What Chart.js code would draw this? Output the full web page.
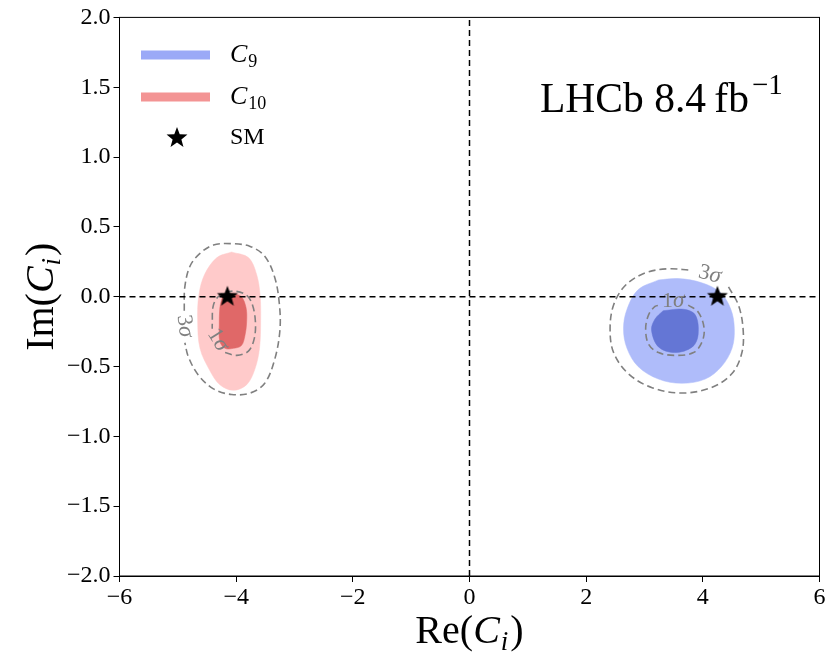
<!DOCTYPE html>
<html>
<head>
<meta charset="utf-8">
<script src="https://cdn.jsdelivr.net/npm/chart.js@4.4.0/dist/chart.umd.min.js"></script>
<style>
  html, body { margin: 0; padding: 0; background: #fff; }
  #wrap { width: 826px; height: 654px; }
</style>
</head>
<body>
<div id="wrap"><canvas id="scan" width="826" height="654"></canvas></div>
<script>
// ---- data (Re, Im pairs) ----
const c9Outer = [[3.24,0.12],[3.58,0.13],[3.98,0.10],[4.30,0.03],[4.48,-0.09],[4.54,-0.23],[4.50,-0.37],[4.32,-0.50],[4.04,-0.59],[3.64,-0.62],[3.24,-0.59],[2.89,-0.50],[2.70,-0.37],[2.64,-0.23],[2.70,-0.09],[2.89,0.05],[3.24,0.12]];
const c9Inner = [[3.32,-0.10],[3.67,-0.09],[3.87,-0.13],[3.92,-0.27],[3.82,-0.36],[3.52,-0.40],[3.24,-0.36],[3.12,-0.24],[3.18,-0.16],[3.32,-0.10]];
const c9Sigma1 = [[3.75,-0.06],[3.92,-0.11],[4.02,-0.22],[3.99,-0.32],[3.84,-0.40],[3.52,-0.42],[3.24,-0.40],[3.07,-0.34],[3.02,-0.23],[3.07,-0.13],[3.18,-0.07],[3.27,-0.06]];
const c9Sigma3 = [[4.44,0.07],[4.61,-0.06],[4.69,-0.23],[4.67,-0.40],[4.50,-0.55],[4.15,-0.65],[3.64,-0.69],[3.12,-0.65],[2.72,-0.55],[2.47,-0.40],[2.41,-0.23],[2.47,-0.06],[2.67,0.08],[3.01,0.17],[3.41,0.20],[3.78,0.19]];

const c10Outer = [[-4.08,0.32],[-3.79,0.28],[-3.65,0.16],[-3.59,0.01],[-3.58,-0.17],[-3.60,-0.37],[-3.68,-0.52],[-3.82,-0.63],[-4.05,-0.67],[-4.28,-0.63],[-4.45,-0.53],[-4.62,-0.37],[-4.66,-0.17],[-4.64,0.01],[-4.54,0.16],[-4.33,0.28],[-4.08,0.32]];
const c10Inner = [[-4.22,0.01],[-4.05,0.02],[-3.91,0.00],[-3.83,-0.08],[-3.82,-0.18],[-3.85,-0.28],[-3.91,-0.35],[-4.05,-0.37],[-4.19,-0.37],[-4.28,-0.32],[-4.29,-0.20],[-4.28,-0.08],[-4.25,-0.02],[-4.22,0.01]];
const c10Sigma1 = [[-4.19,-0.40],[-3.99,-0.42],[-3.79,-0.39],[-3.69,-0.30],[-3.67,-0.18],[-3.72,-0.06],[-3.82,0.01],[-4.05,0.04],[-4.28,0.01],[-4.39,-0.06],[-4.41,-0.20],[-4.41,-0.23]];
const c10Sigma3 = [[-4.89,-0.10],[-4.88,0.07],[-4.79,0.22],[-4.62,0.31],[-4.39,0.37],[-4.08,0.38],[-3.76,0.36],[-3.51,0.29],[-3.34,0.14],[-3.26,-0.05],[-3.25,-0.24],[-3.34,-0.45],[-3.51,-0.62],[-3.76,-0.69],[-4.08,-0.70],[-4.39,-0.66],[-4.65,-0.56],[-4.82,-0.43],[-4.88,-0.33]];

const smPoints = [[-4.15,0.0],[4.25,0.0]];
const zeroH = [[-6,0],[6,0]];
const zeroV = [[0,-2],[0,2]];

const sigmaLabels = ['1σ','3σ','1σ','3σ'];
const sigmaLabelX = [3.49, 4.12, -4.31, -4.88];
const sigmaLabelY = [-0.03, 0.16, -0.31, -0.21];
const sigmaLabelAngle = [0, 14, 58, 82];

const xTicks = [-6,-4,-2,0,2,4,6];
const yTicks = [-2.0,-1.5,-1.0,-0.5,0.0,0.5,1.0,1.5,2.0];

const serif = "'Liberation Serif', 'DejaVu Serif', serif";
const pts = a => a.map(p => ({x: p[0], y: p[1]}));

function makeStar(r) {
  const c = document.createElement('canvas');
  const s = Math.ceil(r * 2 + 2);
  c.width = s; c.height = s;
  const g = c.getContext('2d');
  g.beginPath();
  for (let i = 0; i < 10; i++) {
    const rad = i % 2 ? r * 0.42 : r;
    const a = -Math.PI / 2 + i * Math.PI / 5;
    g.lineTo(s / 2 + rad * Math.cos(a), s / 2 + rad * Math.sin(a));
  }
  g.closePath();
  g.fillStyle = '#000';
  g.fill();
  return c;
}
const star = makeStar(11);

function fillSet(data, color, order) {
  return { data: pts(data), showLine: true, fill: 'shape', backgroundColor: color,
    borderColor: color, borderWidth: 0.5, pointRadius: 0, tension: 0.35, order: order };
}
function dashSet(data, order) {
  return { data: pts(data), showLine: true, fill: false, borderColor: '#808080',
    borderWidth: 1.6, borderDash: [7, 4], pointRadius: 0, tension: 0.35, order: order };
}

// draws italic/sub text runs in a row
function drawRuns(g, runs, x, y) {
  for (const r of runs) {
    g.font = r.font;
    g.fillText(r.t, x, y + (r.dy || 0));
    x += g.measureText(r.t).width + (r.gap || 0);
  }
}
function runsWidth(g, runs) {
  let w = 0;
  for (const r of runs) { g.font = r.font; w += g.measureText(r.t).width + (r.gap || 0); }
  return w;
}

const decor = {
  id: 'decor',
  afterDatasetsDraw(chart) {
    const g = chart.ctx, a = chart.chartArea;
    const xs = chart.scales.x, ys = chart.scales.y;
    g.save();
    // frame
    g.strokeStyle = '#000'; g.lineWidth = 1;
    g.strokeRect(a.left, a.top, a.right - a.left, a.bottom - a.top);

    // sigma labels
    g.fillStyle = '#808080';
    g.textBaseline = 'middle';
    sigmaLabels.forEach((s, i) => {
      const px = xs.getPixelForValue(sigmaLabelX[i]);
      const py = ys.getPixelForValue(sigmaLabelY[i]);
      g.save();
      g.translate(px, py);
      g.rotate(sigmaLabelAngle[i] * Math.PI / 180);
      const runs = [{t: s[0], font: '22px ' + serif}, {t: s[1], font: 'italic 23px ' + serif}];
      drawRuns(g, runs, -runsWidth(g, runs) / 2, 0);
      g.restore();
    });

    // legend
    g.textBaseline = 'alphabetic';
    g.lineWidth = 9;
    g.strokeStyle = '#9ba9f7';
    g.beginPath(); g.moveTo(141, 55); g.lineTo(210, 55); g.stroke();
    g.strokeStyle = '#f39494';
    g.beginPath(); g.moveTo(141, 97); g.lineTo(210, 97); g.stroke();
    g.drawImage(star, 177 - star.width / 2, 138 - star.height / 2);
    g.fillStyle = '#000';
    drawRuns(g, [{t: 'C', font: 'italic 26px ' + serif, gap: 1}, {t: '9', font: '18px ' + serif, dy: 5}], 230, 62);
    drawRuns(g, [{t: 'C', font: 'italic 26px ' + serif, gap: 1}, {t: '10', font: '18px ' + serif, dy: 5}], 230, 104);
    drawRuns(g, [{t: 'SM', font: '24px ' + serif}], 230, 144);

    // experiment tag
    drawRuns(g, [{t: 'LHCb 8.4\u2009fb', font: '41.5px ' + serif, gap: 3}, {t: '\u22121', font: '29px ' + serif, dy: -18}], 540, 112);

    // axis titles
    const xr = [{t: 'Re(', font: '40px ' + serif}, {t: 'C', font: 'italic 40px ' + serif, gap: 1},
                {t: 'i', font: 'italic 27px ' + serif, dy: 7, gap: 2}, {t: ')', font: '40px ' + serif}];
    drawRuns(g, xr, (a.left + a.right) / 2 - runsWidth(g, xr) / 2, 643);
    const yr = [{t: 'Im(', font: '40px ' + serif}, {t: 'C', font: 'italic 40px ' + serif, gap: 1},
                {t: 'i', font: 'italic 27px ' + serif, dy: 7, gap: 2}, {t: ')', font: '40px ' + serif}];
    g.save();
    g.translate(53, (a.top + a.bottom) / 2);
    g.rotate(-Math.PI / 2);
    drawRuns(g, yr, -runsWidth(g, yr) / 2, 0);
    g.restore();
    g.restore();
  }
};

new Chart(document.getElementById('scan'), {
  type: 'scatter',
  data: {
    datasets: [
      { data: pts(smPoints), pointStyle: star, pointRadius: 11, showLine: false, order: 0 },
      { data: pts(zeroH), showLine: true, borderColor: '#000', borderWidth: 1.5, borderDash: [6, 4], pointRadius: 0, order: 1 },
      { data: pts(zeroV), showLine: true, borderColor: '#000', borderWidth: 1.5, borderDash: [6, 4], pointRadius: 0, order: 1 },
      dashSet(c9Sigma1, 2), dashSet(c9Sigma3, 2), dashSet(c10Sigma1, 2), dashSet(c10Sigma3, 2),
      fillSet(c9Inner, '#6476d5', 3), fillSet(c10Inner, '#e06868', 3),
      fillSet(c9Outer, '#afbcfa', 4), fillSet(c10Outer, '#ffcaca', 4)
    ]
  },
  options: {
    responsive: false,
    animation: false,
    events: [],
    layout: { autoPadding: false, padding: { top: 17, right: 6.5, left: 0, bottom: 0 } },
    plugins: { legend: { display: false }, tooltip: { enabled: false } },
    scales: {
      x: {
        type: 'linear', min: -6, max: 6,
        afterBuildTicks: s => { s.ticks = xTicks.map(v => ({value: v})); },
        ticks: { color: '#000', font: { family: serif, size: 24 }, padding: 1, maxRotation: 0,
          callback: v => String(v).replace('-', '\u2212') },
        grid: { drawOnChartArea: false, tickLength: 6, tickColor: '#000' },
        border: { color: '#000' },
        afterFit: s => { s.height = 78; s.paddingLeft = 0; s.paddingRight = 0; }
      },
      y: {
        type: 'linear', min: -2, max: 2,
        afterBuildTicks: s => { s.ticks = yTicks.map(v => ({value: v})); },
        ticks: { color: '#000', font: { family: serif, size: 24 }, padding: 3,
          callback: v => Number(v).toFixed(1).replace('-', '\u2212') },
        grid: { drawOnChartArea: false, tickLength: 6, tickColor: '#000' },
        border: { color: '#000' },
        afterFit: s => { s.width = 119.5; }
      }
    }
  },
  plugins: [decor]
});
</script>
</body>
</html>
